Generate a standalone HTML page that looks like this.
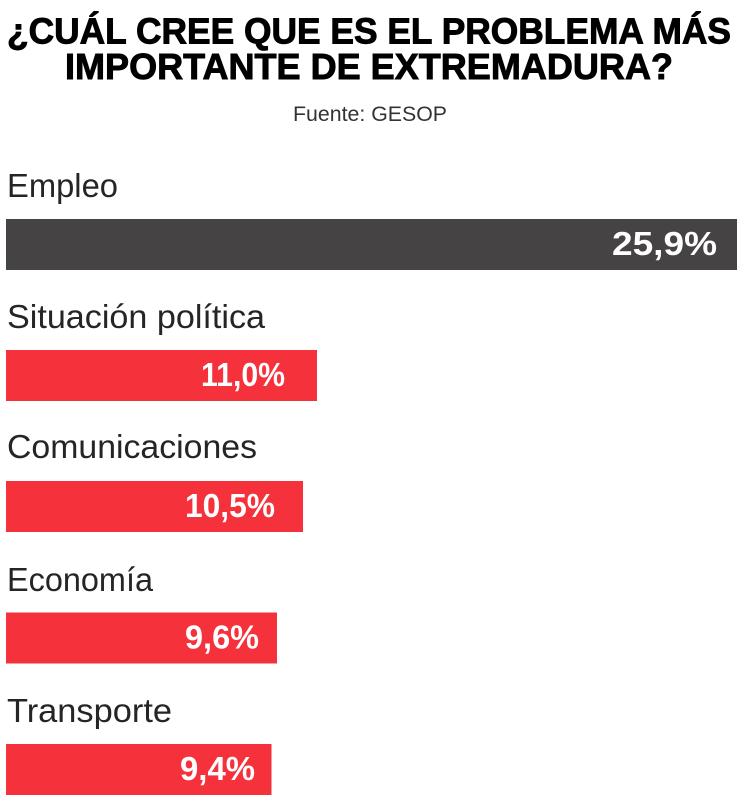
<!DOCTYPE html>
<html>
<head>
<meta charset="utf-8">
<style>
  html, body { margin:0; padding:0; background:#ffffff; }
  body { width:747px; height:812px; overflow:hidden; }
  svg { display:block; }
  .t { font-family:"Liberation Sans", sans-serif; font-weight:bold; font-size:36px; fill:#000; stroke:#000; stroke-width:0.9px; }
  .src { font-family:"Liberation Sans", sans-serif; font-size:21px; fill:#333; }
  .lab { font-family:"Liberation Sans", sans-serif; font-size:33.5px; fill:#252525; }
  .val { font-family:"Liberation Sans", sans-serif; font-weight:bold; font-size:33px; fill:#ffffff; }
</style>
</head>
<body>
<svg width="747" height="812" viewBox="0 0 747 812" xmlns="http://www.w3.org/2000/svg">
  <rect x="0" y="0" width="747" height="812" fill="#ffffff"/>

  <!-- Title -->
  <text class="t" x="7" y="43.5" textLength="724" lengthAdjust="spacingAndGlyphs">¿CUÁL CREE QUE ES EL PROBLEMA MÁS</text>
  <text class="t" x="65" y="79" textLength="608" lengthAdjust="spacingAndGlyphs">IMPORTANTE DE EXTREMADURA?</text>

  <!-- Source -->
  <text class="src" x="293" y="121" textLength="154" lengthAdjust="spacingAndGlyphs">Fuente: GESOP</text>

  <!-- Row 1 -->
  <text class="lab" x="7" y="197" textLength="111" lengthAdjust="spacingAndGlyphs">Empleo</text>
  <rect x="6" y="219" width="731" height="51" fill="#464344"/>
  <text class="val" x="612" y="255" textLength="105" lengthAdjust="spacingAndGlyphs">25,9%</text>

  <!-- Row 2 -->
  <text class="lab" x="7" y="328" textLength="258" lengthAdjust="spacingAndGlyphs">Situación política</text>
  <rect x="6" y="350" width="311" height="51" fill="#f5313b"/>
  <text class="val" x="201" y="386" textLength="84" lengthAdjust="spacingAndGlyphs">11,0%</text>

  <!-- Row 3 -->
  <text class="lab" x="7" y="458" textLength="250" lengthAdjust="spacingAndGlyphs">Comunicaciones</text>
  <rect x="6" y="481" width="297" height="51" fill="#f5313b"/>
  <text class="val" x="185" y="517" textLength="90" lengthAdjust="spacingAndGlyphs">10,5%</text>

  <!-- Row 4 -->
  <text class="lab" x="7" y="591" textLength="146" lengthAdjust="spacingAndGlyphs">Economía</text>
  <rect x="6" y="612.5" width="271" height="51" fill="#f5313b"/>
  <text class="val" x="185" y="648.5" textLength="74" lengthAdjust="spacingAndGlyphs">9,6%</text>

  <!-- Row 5 -->
  <text class="lab" x="7" y="722" textLength="165" lengthAdjust="spacingAndGlyphs">Transporte</text>
  <rect x="6" y="744" width="265.5" height="51" fill="#f5313b"/>
  <text class="val" x="180" y="780" textLength="75" lengthAdjust="spacingAndGlyphs">9,4%</text>
</svg>
</body>
</html>
